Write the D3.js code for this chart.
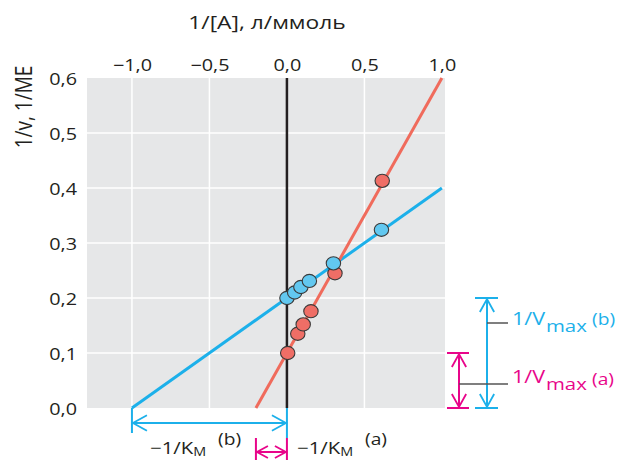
<!DOCTYPE html>
<html><head><meta charset="utf-8">
<script src="https://cdn.jsdelivr.net/npm/d3@7"></script>
<style>body{margin:0;background:#fff}text{font-family:"Open Sans",sans-serif;fill:#231f20}</style>
</head><body><svg id="c" width="622" height="460"></svg>
<script>
const xTicks = [-1.0, -0.5, 0.0, 0.5, 1.0];
const yTicks = [0.0, 0.1, 0.2, 0.3, 0.4, 0.5, 0.6];
const aX = [0.005, 0.07, 0.105, 0.155, 0.31, 0.615];
const aY = [0.100, 0.135, 0.152, 0.176, 0.245, 0.413];
const bX = [0.0, 0.05, 0.09, 0.145, 0.30, 0.61];
const bY = [0.200, 0.210, 0.220, 0.231, 0.263, 0.324];
const lineA = [[-0.2, 0.0], [1.0, 0.6]];
const lineB = [[-1.0, 0.0], [1.0, 0.4]];
const fmt = v => (v < 0 ? "\u2212" : "") + Math.abs(v).toFixed(1).replace(".", ",");
const SX = 1.2; // horizontal text stretch seen in the reference

const svg = d3.select("#c");
const x = d3.scaleLinear().domain([-1.29, 1.02]).range([87, 445]);
const y = d3.scaleLinear().domain([0, 0.6]).range([408, 78]);

const BLUE = "#1cb0ea", RED = "#f06b5c", MAG = "#e8058a";

function txt(px, py, s, size, anchor, color) {
  const t = svg.append("text").attr("transform", `translate(${px},${py}) scale(${SX},1)`)
    .attr("font-size", size).attr("text-anchor", anchor || "start");
  if (color) t.style("fill", color);
  if (s) t.text(s);
  return t;
}

svg.append("rect").attr("x", x(-1.29)).attr("y", y(0.6))
  .attr("width", x(1.02) - x(-1.29)).attr("height", y(0) - y(0.6)).attr("fill", "#e6e7e8");

// grid
svg.append("g").selectAll("line").data(yTicks.filter(v => v > 0 && v < 0.6)).join("line")
  .attr("x1", x(-1.29)).attr("x2", x(1.02)).attr("y1", d => y(d)).attr("y2", d => y(d))
  .attr("stroke", "#fff").attr("stroke-width", 1.5);
svg.append("g").selectAll("line").data(xTicks.filter(v => v !== 0 && v < 1)).join("line")
  .attr("y1", y(0)).attr("y2", y(0.6)).attr("x1", d => x(d)).attr("x2", d => x(d))
  .attr("stroke", "#fff").attr("stroke-width", 1.5);

// axes (top, left) — labels only
const xa = svg.append("g").attr("transform", `translate(0,${y(0.6)})`)
  .call(d3.axisTop(x).tickValues(xTicks).tickFormat(fmt).tickSize(0).tickPadding(7));
xa.select(".domain").remove();
xa.selectAll("text").attr("font-size", 16.5).attr("font-family", "Open Sans").attr("fill", "#231f20")
  .attr("transform", `scale(${SX},1)`);
const ya = svg.append("g").attr("transform", `translate(${x(-1.29)},0)`)
  .call(d3.axisLeft(y).tickValues(yTicks).tickFormat(fmt).tickSize(0).tickPadding(9));
ya.select(".domain").remove();
ya.selectAll("text").attr("font-size", 16.5).attr("font-family", "Open Sans").attr("fill", "#231f20")
  .attr("x", -10 / SX).attr("dy", "0.4em").attr("transform", `scale(${SX},1)`);

txt(267, 29, "1/[A], л/ммоль", 19, "middle");
svg.append("text").attr("transform", `translate(32,107) scale(${SX},1) rotate(-90)`).attr("text-anchor", "middle")
  .attr("font-size", 19).text("1/v, 1/ME");

// y axis line at x=0
svg.append("line").attr("x1", x(0)).attr("x2", x(0)).attr("y1", y(0)).attr("y2", y(0.6))
  .attr("stroke", "#231f20").attr("stroke-width", 2.5);

// fitted lines
const ln = d3.line().x(d => x(d[0])).y(d => y(d[1]));
svg.append("path").attr("d", ln(lineB)).attr("stroke", BLUE).attr("stroke-width", 3).attr("fill", "none");
svg.append("path").attr("d", ln(lineA)).attr("stroke", RED).attr("stroke-width", 3).attr("fill", "none");

// points
svg.append("g").selectAll("ellipse").data(aX.map((v, i) => [v, aY[i]])).join("ellipse")
  .attr("cx", d => x(d[0])).attr("cy", d => y(d[1])).attr("rx", 7.2).attr("ry", 6.6)
  .attr("fill", "#ef6e66").attr("stroke", "#3a3a3a").attr("stroke-width", 1.1);
svg.append("g").selectAll("ellipse").data(bX.map((v, i) => [v, bY[i]])).join("ellipse")
  .attr("cx", d => x(d[0])).attr("cy", d => y(d[1])).attr("rx", 7.2).attr("ry", 6.6)
  .attr("fill", "#62c8f0").attr("stroke", "#3a3a3a").attr("stroke-width", 1.1);

// annotation helpers
function seg(x1, y1, x2, y2, c, w) {
  svg.append("line").attr("x1", x1).attr("y1", y1).attr("x2", x2).attr("y2", y2)
    .attr("stroke", c).attr("stroke-width", w || 2);
}
function head(px, py, dx, dy, c, L) { // open V arrowhead at (px,py) pointing (dx,dy)
  L = L || 10; const w = L * 0.55;
  const bx = px - dx * L, by = py - dy * L;
  svg.append("path").attr("d", `M${bx - dy * w},${by + dx * w}L${px},${py}L${bx + dy * w},${by - dx * w}`)
    .attr("fill", "none").attr("stroke", c).attr("stroke-width", 1.8);
}

// bottom: -1/Km (b)
const bL = x(lineB[0][0]), b0 = x(0), aL = x(lineA[0][0]);
seg(bL, y(0), bL, 433, BLUE); seg(b0, y(0), b0, 438, BLUE);
seg(bL, 423, b0, 423, BLUE); head(bL + 1, 423, -1, 0, BLUE, 14); head(b0 - 1, 423, 1, 0, BLUE, 14);
// -1/Km (a)
seg(aL, 438, aL, 460, MAG); seg(b0, 438, b0, 460, MAG);
seg(aL, 452, b0, 452, MAG); head(aL + 1, 452, -1, 0, MAG, 11); head(b0 - 1, 452, 1, 0, MAG, 11);

function kmLabel(x0, tag) {
  const t = txt(x0, 454, null, 17);
  t.append("tspan").text("\u22121/K");
  t.append("tspan").attr("font-size", 12).attr("dy", 2).text("M");
  txt(x0 + 68, 445, tag, 16);
}
kmLabel(150, "(b)");
kmLabel(297, "(a)");

// right: 1/Vmax brackets
const yA = y(0.1), yB = y(0.2), yZ = y(0);
seg(459, yA, 459, yZ, MAG); seg(447, yA, 469, yA, MAG); seg(447, yZ, 469, yZ, MAG);
head(459, yA + 1, 0, -1, MAG, 13); head(459, yZ - 1, 0, 1, MAG, 13);
seg(487, yB, 487, yZ, BLUE); seg(475, yB, 498, yB, BLUE); seg(475, yZ, 498, yZ, BLUE);
head(487, yB + 1, 0, -1, BLUE, 13); head(487, yZ - 1, 0, 1, BLUE, 13);
seg(487, 323, 508, 323, "#555", 1.5);
seg(459, 384, 508, 384, "#555", 1.5);

function vLabel(yb, c, tag, tagDy) {
  txt(512, yb, "1/V", 18, "start", c);
  txt(546, yb + 7, "max", 17, "start", c);
  txt(592, yb + tagDy, tag, 16, "start", c);
}
vLabel(325, BLUE, "(b)", 0);
vLabel(383, MAG, "(a)", 2);
</script></body></html>
